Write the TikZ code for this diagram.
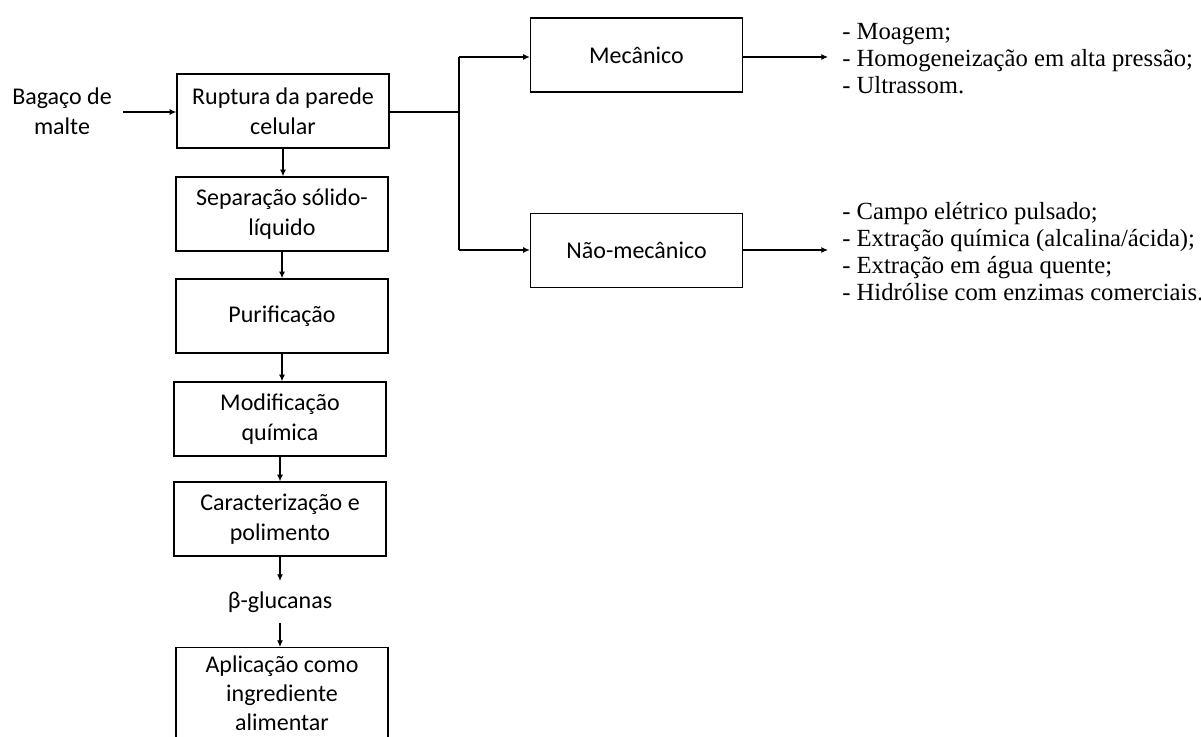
\documentclass[tikz,border=0pt]{standalone}
\usepackage{fontspec}
\setmainfont{Carlito}
\newfontfamily\tnr{Liberation Serif}
\usetikzlibrary{arrows.meta}
\begin{document}
\begin{tikzpicture}[x=0.75pt,y=-0.75pt,
  box/.style={draw, line width=1pt, minimum width=159pt, minimum height=55.5pt, align=center, inner sep=0pt, font=\fontsize{18}{22.5}\selectfont},
  plain/.style={align=center, inner sep=0pt, font=\fontsize{18}{22.5}\selectfont},
  list/.style={align=left, anchor=west, inner sep=0pt, font=\tnr\fontsize{18.5}{20.3}\selectfont},
  arr/.style={-{Latex[length=5pt,width=4.5pt]}, line width=0.9pt},
  ln/.style={line width=0.9pt}]
\useasboundingbox (0,0) rectangle (1201,737);
\node[plain] (bag) at (62,111) {Bagaço de\\malte};
\node[box] (rup) at (283,111) {Ruptura da parede\\celular};
\node[box] (sep) at (282,214) {Separação sólido-\\líquido};
\node[box] (pur) at (282,316) {Purificação};
\node[box] (mod) at (280,419) {Modificação\\química};
\node[box] (car) at (280,519) {Caracterização e\\polimento};
\node[plain] (beta) at (280,602) {β-glucanas};
\node[box, anchor=north, minimum height=69pt, font=\fontsize{18}{21.8}\selectfont] (apl) at (282,647) {Aplicação como\\ingrediente\\alimentar};
\node[box] (mec) at (636.5,55) {Mecânico};
\node[box] (nmec) at (636.5,250.5) {Não-mecânico};
\coordinate (src) at (123,112);
\coordinate (j) at (459,112);
\coordinate (jt) at (459,57);
\coordinate (jb) at (459,250);
\coordinate (o1) at (828,57);
\coordinate (o2) at (828,250);
\node[list] (l1) at (842,59) {- Moagem;\\- Homogeneização em alta pressão;\\- Ultrassom.};
\node[list] (l2) at (842,252) {- Campo elétrico pulsado;\\- Extração química (alcalina/ácida);\\- Extração em água quente;\\- Hidrólise com enzimas comerciais.};
\draw[arr] (src) -- (src -| rup.west);
\draw[arr] (rup.south) -- (rup.south |- sep.north);
\draw[arr] (sep.south) -- (sep.south |- pur.north);
\draw[arr] (pur.south) -- (pur.south |- mod.north);
\draw[arr] (mod.south) -- (mod.south |- car.north);
\draw[arr] (car.south) -- (280,581);
\draw[arr] (280,623) -- (280,647);
\draw[line width=1.4pt] (rup.east |- j) -- (j);
\draw[ln] (jt) -- (jb);
\draw[arr] (jt) -- (jt -| mec.west);
\draw[arr] (jb) -- (jb -| nmec.west);
\draw[arr] (mec.east |- o1) -- (o1);
\draw[arr] (nmec.east |- o2) -- (o2);
\end{tikzpicture}
\end{document}
